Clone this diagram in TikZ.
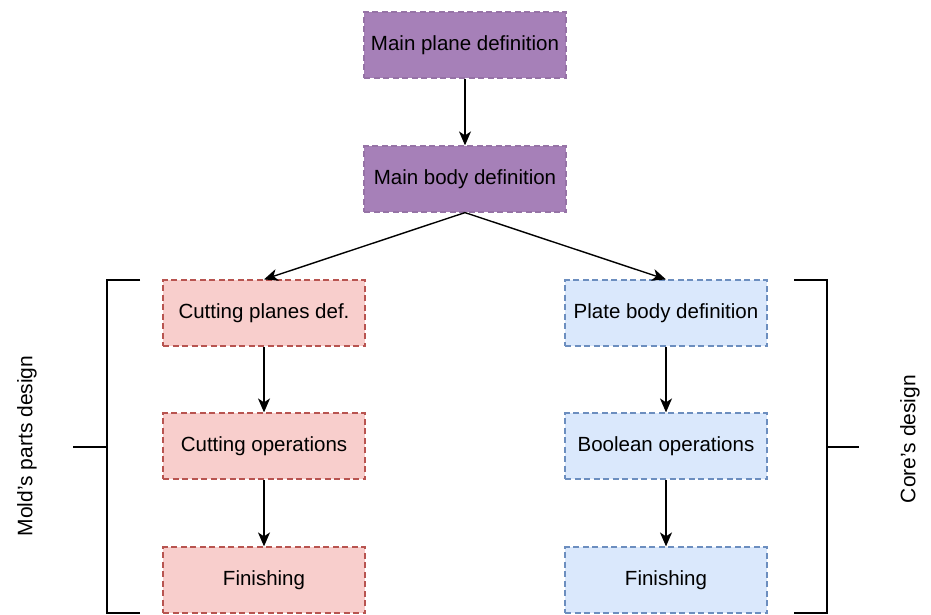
\documentclass[tikz,border=0pt]{standalone}
\usepackage{fontspec}
\setmainfont{Liberation Sans}
\usetikzlibrary{arrows.meta}
\definecolor{pfill}{HTML}{A680B8}
\definecolor{pline}{HTML}{9673A6}
\definecolor{rfill}{HTML}{F8CECC}
\definecolor{rline}{HTML}{B85450}
\definecolor{bfill}{HTML}{DAE8FC}
\definecolor{bline}{HTML}{6C8EBF}
\tikzset{
  box/.style={draw, dash pattern=on 6pt off 3.5pt, line width=1.2pt, minimum width=202pt, minimum height=66pt, inner sep=0pt, font=\fontsize{20.5}{24}\selectfont},
  pbox/.style={box, fill=pfill, draw=pline},
  rbox/.style={box, fill=rfill, draw=rline},
  bbox/.style={box, fill=bfill, draw=bline},
  conn/.style={line width=1.4pt, -{Stealth[length=14pt,width=12pt,inset=4pt]}},
  brack/.style={line width=2.8pt},
  lab/.style={rotate=90, font=\fontsize{21}{24}\selectfont}
}
\begin{document}
\begin{tikzpicture}[x=1pt,y=-1pt]
\useasboundingbox (0,0) rectangle (931,615);
\node[pbox] (mp) at (465,45) {Main plane definition};
\node[pbox] (mb) at (465,179) {Main body definition};
\node[rbox] (cp) at (264,313) {Cutting planes def.};
\node[rbox] (co) at (264,446) {Cutting operations};
\node[rbox] (fl) at (264,580) {Finishing};
\node[bbox] (pb) at (666,313) {Plate body definition};
\node[bbox] (bo) at (666,446) {Boolean operations};
\node[bbox] (fr) at (666,580) {Finishing};
\draw[conn] (mp) -- (mb);
\draw[conn] (mb.south) -- (cp.north);
\draw[conn] (mb.south) -- (pb.north);
\draw[conn] (cp) -- (co);
\draw[conn] (co) -- (fl);
\draw[conn] (pb) -- (bo);
\draw[conn] (bo) -- (fr);
\coordinate (l1) at (140,280);
\coordinate (l2) at (107,280);
\coordinate (l3) at (107,613);
\coordinate (l4) at (140,613);
\coordinate (lm) at (107,447);
\coordinate (lt) at (73,447);
\draw[brack] (l1) -- (l2) -- (l3) -- (l4);
\draw[brack] (lm) -- (lt);
\coordinate (r1) at (794,280);
\coordinate (r2) at (827,280);
\coordinate (r3) at (827,613);
\coordinate (r4) at (794,613);
\coordinate (rm) at (827,447);
\coordinate (rt) at (859,447);
\draw[brack] (r1) -- (r2) -- (r3) -- (r4);
\draw[brack] (rm) -- (rt);
\node[lab] (ml) at (27,446) {Mold's parts design};
\node[lab] (cl) at (910,439) {Core's design};
\end{tikzpicture}
\end{document}
